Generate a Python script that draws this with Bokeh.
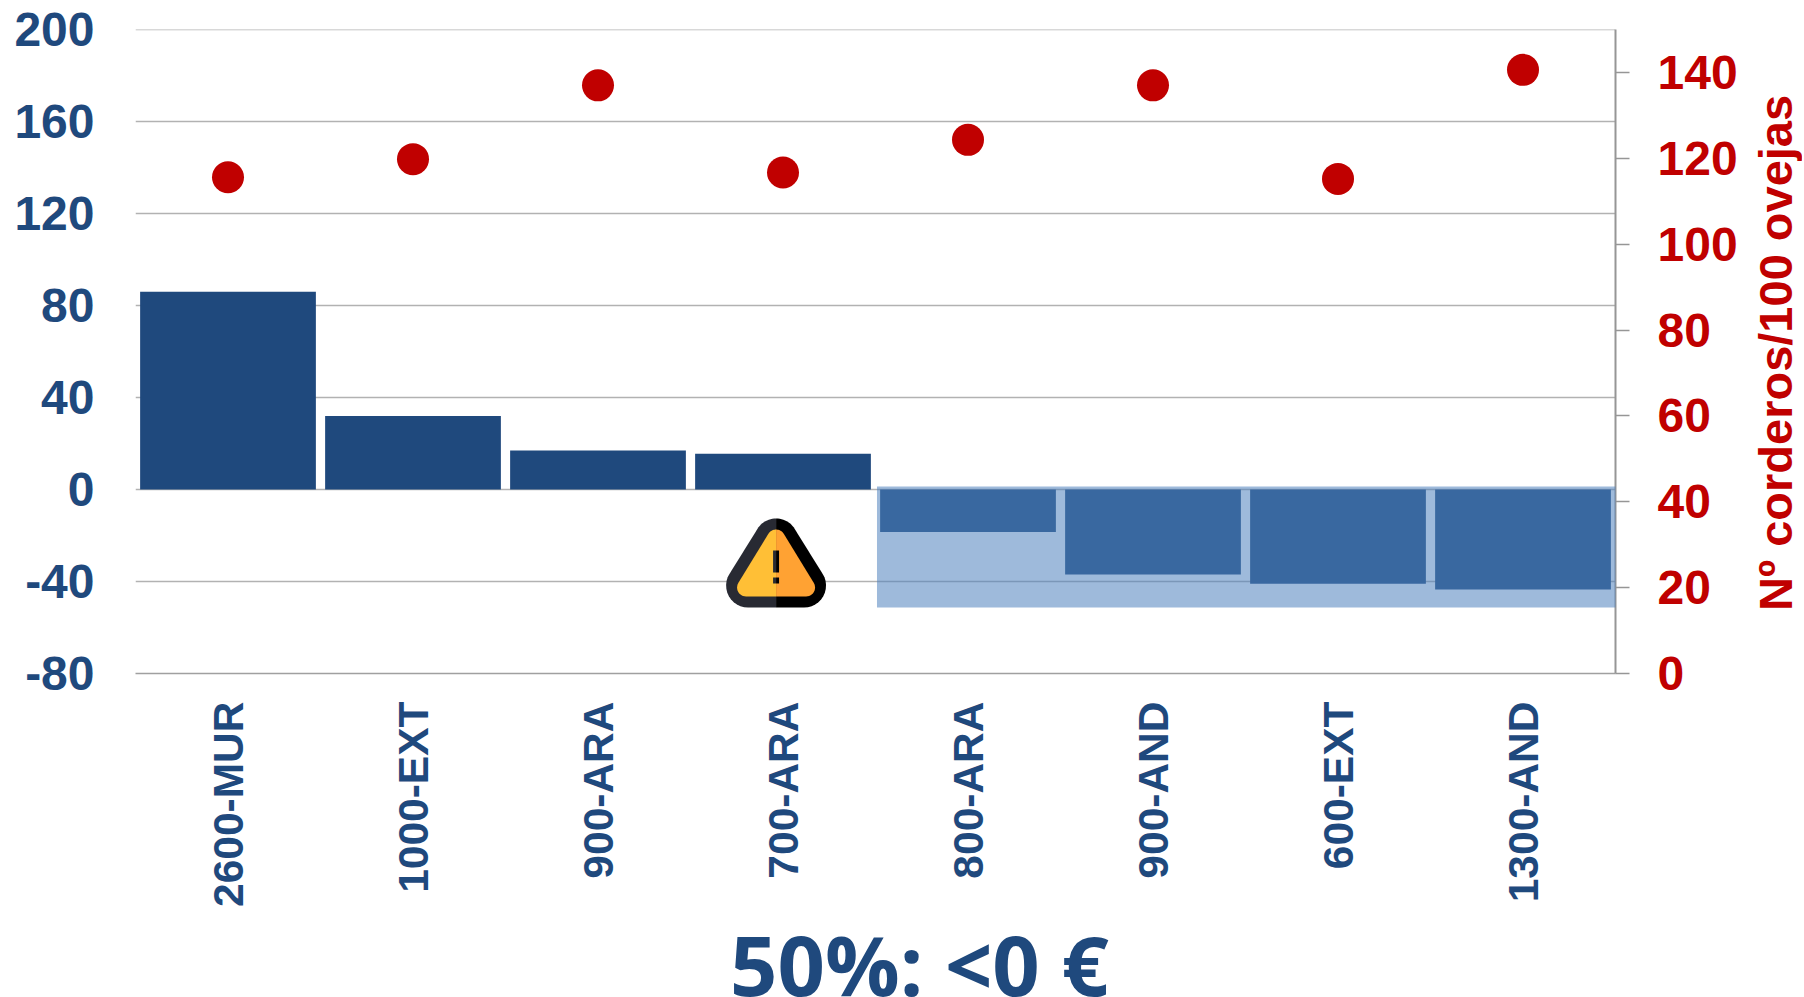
import math
from bokeh.plotting import figure
from bokeh.layouts import row, column
from bokeh.models import (ColumnDataSource, FactorRange, Range1d, LinearAxis, FixedTicker,
                          BoxAnnotation, Div)
from bokeh.embed import file_html
from bokeh.resources import INLINE

categories = ["2600-MUR", "1000-EXT", "900-ARA", "700-ARA", "800-ARA", "900-AND", "600-EXT", "1300-AND"]
margin_values = [86, 32, 17, 15.5, -18.5, -37, -41, -43.5]
lamb_values = [115.6, 119.8, 137, 116.7, 124.3, 137, 115.2, 140.6]
left_ticks = [-80, -40, 0, 40, 80, 120, 160, 200]
right_ticks = [0, 20, 40, 60, 80, 100, 120, 140]
title_text = "50%: <0 €"
right_label = "Nº corderos/100 ovejas"

BLUE = "#1F497D"
RED = "#C00000"
GRAY = "#B2B2B2"
FONT = "Liberation Sans"

# frame position in the picture (px)
FL, FR, FT, FB = 135, 1616, 29, 673
W, H = 1740, 923

p = figure(width=W, height=H, output_backend="svg", toolbar_location=None,
           x_range=FactorRange(factors=categories, factor_padding=0, range_padding=0),
           y_range=Range1d(-80, 200),
           min_border_left=FL, min_border_right=W - FR,
           min_border_top=FT, min_border_bottom=H - FB)
p.extra_y_ranges = {"lambs": Range1d(0, 150)}
p.outline_line_color = None
p.background_fill_color = "white"
p.border_fill_color = "white"


def px_x(x):
    return (x - FL) / ((FR - FL) / len(categories))


def px_y(y):
    return 200 - (y - FT) * 280 / (FB - FT)


p.hspan(y=[200], line_color=GRAY, line_width=1.5)

src = ColumnDataSource(dict(cat=categories, margin=margin_values, lamb=lamb_values))
p.vbar(x="cat", top="margin", bottom=0, width=0.95, source=src, fill_color=BLUE, line_color=None)
p.scatter(x="cat", y="lamb", source=src, y_range_name="lambs", size=32,
          fill_color=RED, line_color=None)

# left axis
ax = p.yaxis[0]
ax.ticker = FixedTicker(ticks=left_ticks)
ax.major_label_overrides = {t: str(t) for t in left_ticks}
ax.axis_line_color = None
ax.major_tick_line_color = None
ax.minor_tick_line_color = None
ax.major_label_standoff = 35
ax.major_label_text_font = FONT
ax.major_label_text_font_style = "bold"
ax.major_label_text_font_size = "48px"
ax.major_label_text_color = BLUE

g = p.ygrid[0]
g.ticker = FixedTicker(ticks=left_ticks)
g.grid_line_color = GRAY
g.grid_line_width = 1.5
p.xgrid.visible = False

# bottom axis
bx = p.xaxis[0]
bx.axis_line_color = "#A0A0A0"
bx.axis_line_width = 1.5
bx.major_tick_line_color = None
bx.minor_tick_line_color = None
bx.major_label_orientation = math.pi / 2
bx.major_label_standoff = 22
bx.major_label_text_font = FONT
bx.major_label_text_font_style = "bold"
bx.major_label_text_font_size = "42.5px"
bx.major_label_text_color = BLUE

# right axis
ry = LinearAxis(y_range_name="lambs", ticker=FixedTicker(ticks=right_ticks))
ry.axis_line_color = "#969696"
ry.axis_line_width = 2
ry.major_tick_line_color = "#969696"
ry.major_tick_line_width = 1.5
ry.major_tick_out = 14
ry.major_tick_in = 0
ry.minor_tick_line_color = None
ry.major_label_standoff = 28
ry.major_label_text_font = FONT
ry.major_label_text_font_style = "bold"
ry.major_label_text_font_size = "48px"
ry.major_label_text_color = RED
p.add_layout(ry, "right")

# highlighted band
p.add_layout(BoxAnnotation(left=px_x(877), right=px_x(1618), top=px_y(486), bottom=px_y(607),
                           fill_color="#4F81BD", fill_alpha=0.55, line_color=None))


# warning icon: rounded triangle split in two halves
def half(cx, top, bottom, half_w, r, sign):
    tx, ty = cx, top + r
    bx_, by = cx + sign * (half_w - r), bottom - r
    dx, dy = bx_ - tx, by - ty
    ln = math.hypot(dx, dy)
    nx, ny = sign * dy / ln, -sign * dx / ln
    a = math.atan2(ny, nx)
    xs, ys = [], []
    up = -math.pi / 2
    for i in range(13):
        t = up + (a - up) * i / 12
        xs.append(tx + r * math.cos(t))
        ys.append(ty + r * math.sin(t))
    down = math.pi / 2 if sign > 0 else -3 * math.pi / 2
    for i in range(13):
        t = a + (down - a) * i / 12
        xs.append(bx_ + r * math.cos(t))
        ys.append(by + r * math.sin(t))
    xs.append(cx)
    ys.append(bottom)
    return [px_x(v) for v in xs], [px_y(v) for v in ys]


CX = 776
for sign, dark, fill in [(-1, "#282A33", "#FFBF36"), (1, "#000000", "#FFA233")]:
    xs, ys = half(CX, 518, 607, 50, 22, sign)
    p.patch(xs, ys, fill_color=dark, line_color=None)
    xs, ys = half(CX, 529, 596, 39, 9, sign)
    p.patch(xs, ys, fill_color=fill, line_color=None)
    for y0, y1 in [(550, 572), (577, 583)]:
        x0 = CX + sign * 3
        p.patch([px_x(CX), px_x(x0), px_x(x0), px_x(CX)],
                [px_y(y0), px_y(y0), px_y(y1), px_y(y1)],
                fill_color=dark, line_color=None)

# right axis title, reading upward
side_div = Div(text=right_label, render_as_text=True, width=56, height=521, margin=(92, 0, 0, 8),
               styles={"writing-mode": "vertical-rl", "transform": "rotate(180deg)",
                       "text-align": "center", "font-family": FONT, "font-weight": "bold",
                       "font-size": "47px", "line-height": "56px", "color": RED,
                       "white-space": "nowrap", "overflow": "visible"})

# bottom title
title_div = Div(text=title_text, render_as_text=True, width=500, height=74, margin=(0, 0, 0, 730),
                styles={"font-family": "Open Sans", "font-weight": "bold", "font-size": "83px",
                        "line-height": "82px", "color": BLUE, "white-space": "nowrap",
                        "overflow": "visible"})

layout = column(row(p, side_div), title_div, spacing=0)
open("out.html", "w").write(file_html(layout, INLINE))
